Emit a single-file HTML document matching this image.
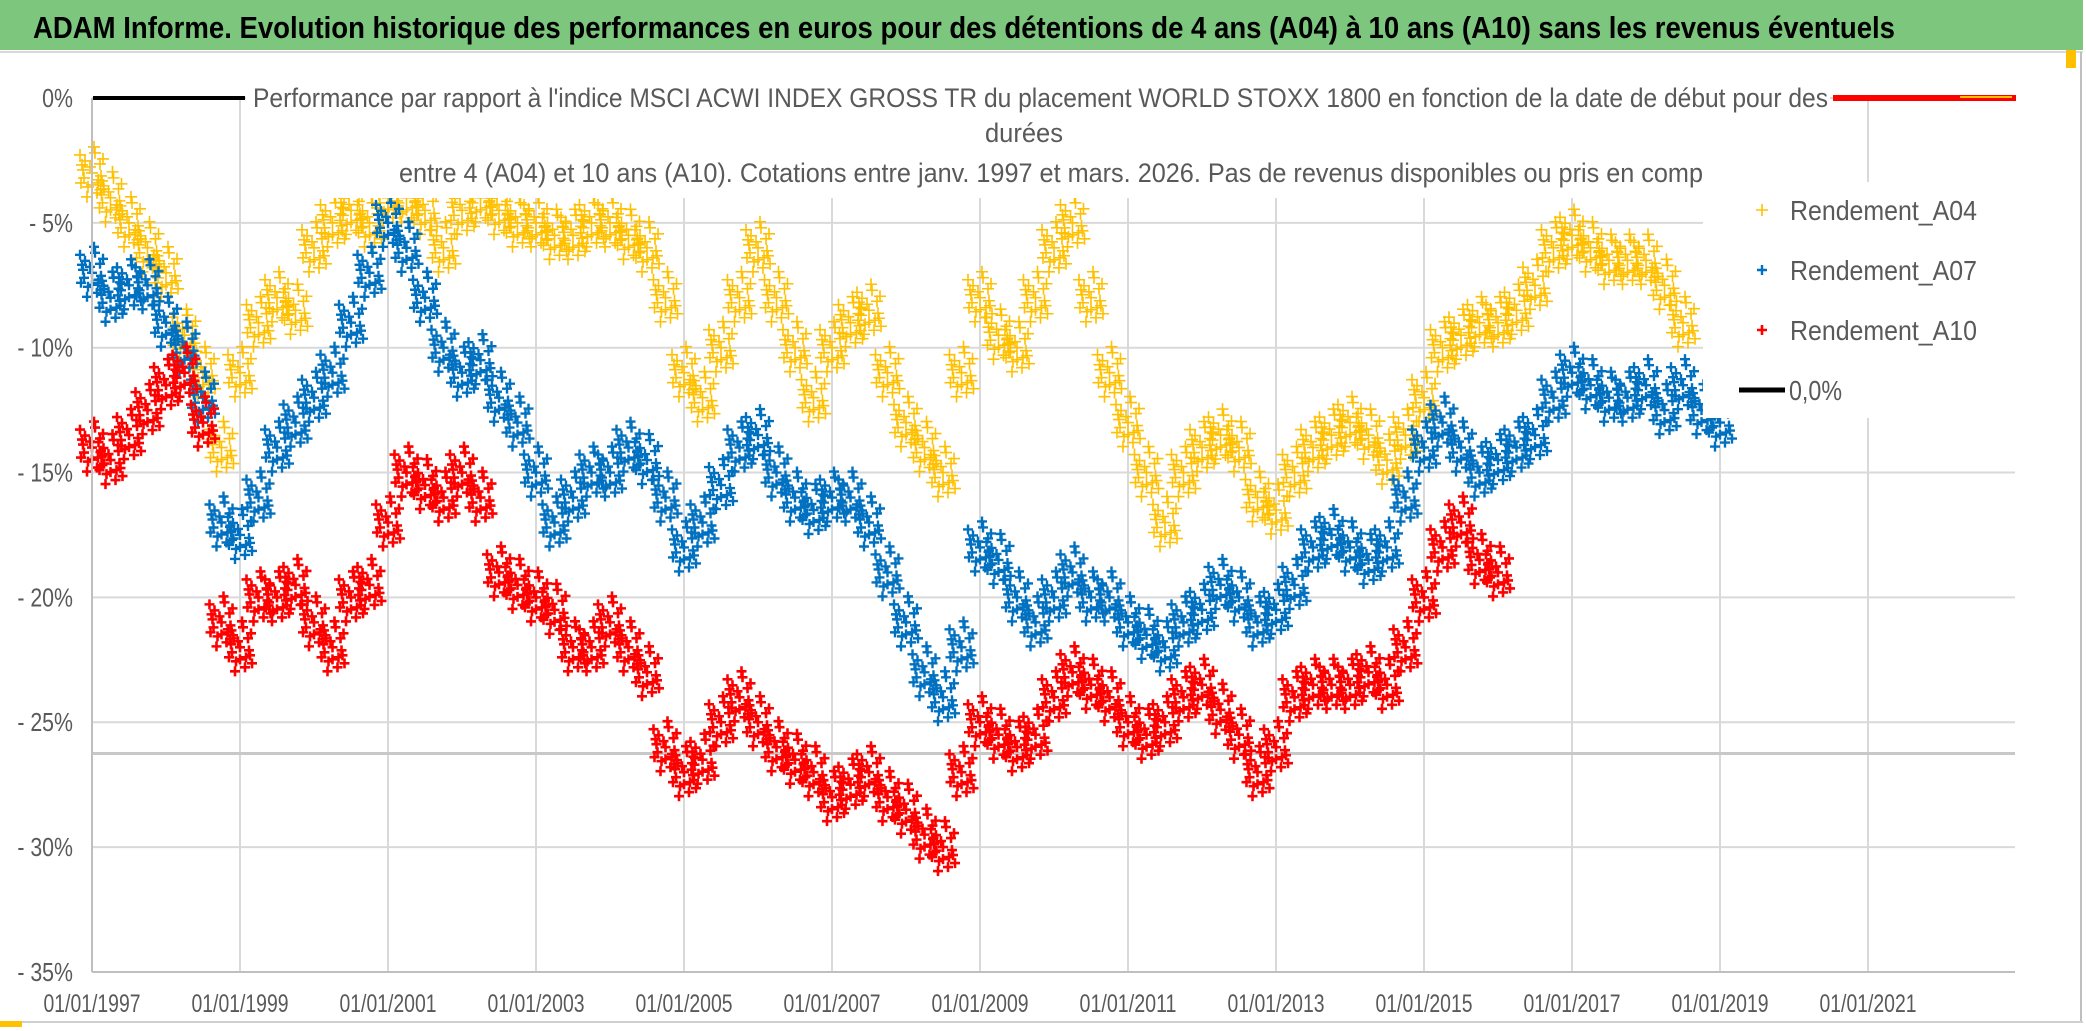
<!DOCTYPE html>
<html><head><meta charset="utf-8">
<style>
html,body{margin:0;padding:0;background:#fff;}
svg{display:block;font-family:"Liberation Sans",sans-serif;}
</style></head>
<body>
<svg id="chart" width="2086" height="1031" viewBox="0 0 2086 1031" xmlns="http://www.w3.org/2000/svg">
  <rect x="0" y="0" width="2086" height="1031" fill="#fff"/>
  <rect x="0" y="0" width="2083" height="50" fill="#7DC67E"/>
  <line x1="0" y1="52" x2="2083" y2="52" stroke="#d9d9d9" stroke-width="2"/>
  <rect x="2066" y="50" width="10" height="18" fill="#FFC000"/>
  <line x1="2081" y1="52" x2="2081" y2="1021" stroke="#bfbfbf" stroke-width="2"/>
  <line x1="0" y1="1022" x2="2083" y2="1022" stroke="#d0d0d0" stroke-width="2"/>
  <rect x="0" y="1021" width="22" height="6" fill="#FFC000"/>
  <text x="33" y="38" font-size="31" font-weight="bold" fill="#000" textLength="1862" lengthAdjust="spacingAndGlyphs">ADAM Informe. Evolution historique des performances en euros pour des détentions de 4 ans (A04) à 10 ans (A10) sans les revenus éventuels</text>
  <g id="grid"></g>
  <g id="refline"></g>
  <g id="points"></g>
  <g id="overlay"></g>
  <g id="axes"></g>
</svg>
<script>
const NS="http://www.w3.org/2000/svg";
const startYear=1997;
const stepYear=0.25;
const yTicks=[0,-5,-10,-15,-20,-25,-30,-35];
const yTickLabels=["0%","- 5%","- 10%","- 15%","- 20%","- 25%","- 30%","- 35%"];
const xTicks=[1997,1999,2001,2003,2005,2007,2009,2011,2013,2015,2017,2019,2021];
const xTickLabels=["01/01/1997","01/01/1999","01/01/2001","01/01/2003","01/01/2005","01/01/2007","01/01/2009","01/01/2011","01/01/2013","01/01/2015","01/01/2017","01/01/2019","01/01/2021"];
const refLevel=-26.25;
const a04=[-3,-4,-5,-6,-7,-9.5,-11,-14,-11,-9,-8,-8.5,-6,-5,-4.5,-5,-4,-4,-4.5,-6,-4.5,-4,-4.5,-5,-5,-5.5,-5.5,-5,-5,-5.5,-6,-8,-11,-12,-10,-8,-6,-8,-10,-12,-10,-9,-8.5,-11,-13,-14,-15,-11,-8,-9.5,-10,-8,-6,-5,-8,-11,-13,-15,-17,-15,-14,-13.5,-14,-16,-16.5,-15,-14,-13.5,-13,-13.5,-14.5,-13.5,-12,-10,-9.5,-9,-9,-8.5,-7.5,-6,-5.5,-6,-6.5,-6.5,-6.5,-7.5,-9];
const a07=[-7,-8,-7.5,-7.5,-9,-10,-12,-17,-17.5,-16,-14,-13,-12,-11,-9,-7,-5,-6,-8,-10,-11,-10.5,-12,-13,-15,-17,-16,-15,-15,-14,-14.5,-16,-18,-17,-15.5,-14,-13.5,-15,-16,-16.5,-16,-16,-17,-19,-21,-23,-24,-22,-18,-18.5,-20,-21,-20,-19,-20,-20,-21,-21.5,-22,-21,-20.5,-19.5,-20,-21,-20.5,-19.5,-18,-17.5,-18,-18.5,-18,-16,-14,-13,-14,-15,-14.5,-14,-13.5,-12,-11,-11.5,-12,-12,-11.5,-12.5,-11.5,-12.5,-13];
const a10=[-14,-14.5,-13.5,-12.5,-11.5,-11,-13,-21,-22,-20,-20,-19.5,-21,-22,-20,-19.5,-17,-15,-15.5,-16,-15,-16,-19,-19.5,-20,-20.5,-22,-22,-21,-22,-23,-26,-27,-26.5,-25,-24,-25,-26,-26.5,-27,-28,-27.5,-27,-28,-28.5,-29.5,-30,-27,-25,-25.5,-26,-25.5,-24,-23,-23.5,-24,-25,-25.5,-25,-24,-23.5,-24.5,-25.5,-27,-26,-24,-23.5,-23.5,-23.5,-23,-23.5,-22,-20,-18,-17,-18.5,-19];

const X0=92,PXY=74,Y0=98,PXP=24.97,XR=2015;
function xs(yr){return X0+(yr-1997)*PXY;}
function ys(v){return Y0-v*PXP;}
const grid=document.getElementById('grid');
const axes=document.getElementById('axes');
function mk(tag,attrs,parent){const e=document.createElementNS(NS,tag);for(const k in attrs)e.setAttribute(k,attrs[k]);parent.appendChild(e);return e;}

yTicks.forEach((t,i)=>{
  const l=mk('line',{x1:X0,x2:XR,y1:ys(t),y2:ys(t),stroke:'#d9d9d9','stroke-width':2},grid);
  
  
  const tx=mk('text',{x:73,y:ys(t)+9,'font-size':26,fill:'#595959','text-anchor':'end',transform:`translate(73 0) scale(0.82 1) translate(-73 0)`},axes);
  tx.textContent=yTickLabels[i];
  
  
});
xTicks.forEach((t,i)=>{
  const l=mk('line',{x1:xs(t),x2:xs(t),y1:Y0,y2:ys(-35),stroke:'#d9d9d9','stroke-width':2},grid);
  
  
  const tx=mk('text',{x:xs(t),y:1012,'font-size':25,fill:'#595959','text-anchor':'middle',textLength:97,lengthAdjust:'spacingAndGlyphs'},axes);
  tx.textContent=xTickLabels[i];
  
  
});
const ax=mk('line',{x1:X0,x2:X0,y1:Y0,y2:ys(-35),stroke:'#bfbfbf','stroke-width':2},axes);


const bx=mk('line',{x1:X0,x2:XR,y1:ys(-35),y2:ys(-35),stroke:'#bfbfbf','stroke-width':2},axes);



const rl=mk('line',{x1:X0,x2:XR,y1:ys(refLevel),y2:ys(refLevel),stroke:'#c8c8c8','stroke-width':3},document.getElementById('refline'));



// marker cluster pattern (style of the dense scatter marker)
const cluster=[[0,0],[-7,-12],[6,10],[-4,14],[8,-9],[3,-20],[-8,5],[5,20],[-2,-6],[9,3],[-9,-3],[-11,10],[11,-14],[-12,-18],[12,16],[-5,24],[2,-26],[-10,-8],[10,8],[0,12]];
const pts=document.getElementById('points');
function series(vals,color,s,w,name){
  const g=mk('g',{},pts);
  
  
  vals.forEach((v,i)=>{
    const cx=xs(startYear+i*stepYear), cy=ys(v);
    const d=cluster.map(o=>{const x=cx+o[0],y=cy+o[1];return `M${x-s},${y}H${x+s}M${x},${y-s}V${y+s}`;}).join('');
    const p=mk('path',{d:d,stroke:color,'stroke-width':w,fill:'none'},g);
    
    
  });
}
series(a04,'#FFC000',6,1.6,'series-a04');
series(a07,'#0070C0',5,2.4,'series-a07');
series(a10,'#FF0000',5,2.6,'series-a10');

const ov=document.getElementById('overlay');
const sb=mk('rect',{x:246,y:62,width:1584,height:136,fill:'#fff'},ov);


const lb=mk('rect',{x:1703,y:182,width:313,height:236,fill:'#fff'},ov);


</script>
<svg style="position:absolute;left:0;top:0" width="2086" height="1031" xmlns="http://www.w3.org/2000/svg">
  <line x1="93" y1="98" x2="245" y2="98" stroke="#000" stroke-width="4"/>
  <line x1="1833" y1="98" x2="2016" y2="98" stroke="#FF0000" stroke-width="6"/>
  <line x1="1960" y1="97" x2="2012" y2="97" stroke="#FFC000" stroke-width="2"/>
  <text x="253" y="107" font-size="27" fill="#595959" textLength="1575" lengthAdjust="spacingAndGlyphs">Performance par rapport à l'indice MSCI ACWI INDEX GROSS TR  du placement WORLD STOXX 1800 en fonction de la date de début pour des</text>
  <text x="1024" y="142" font-size="27" fill="#595959" text-anchor="middle" textLength="78" lengthAdjust="spacingAndGlyphs">durées</text>
  <text x="399" y="182" font-size="27" fill="#595959" textLength="1304" lengthAdjust="spacingAndGlyphs">entre 4 (A04) et 10 ans (A10). Cotations entre janv. 1997 et mars. 2026. Pas de revenus disponibles ou pris en comp</text>
  <g>
    <g>
      <path d="M1756,210H1768M1762,204V216" stroke="#FFC000" stroke-width="1.6"/>
      <text x="1790" y="220" font-size="28" fill="#595959" textLength="187" lengthAdjust="spacingAndGlyphs">Rendement_A04</text>
    </g>
    <g>
      <path d="M1757,270H1767M1762,265V275" stroke="#0070C0" stroke-width="2.4"/>
      <text x="1790" y="280" font-size="28" fill="#595959" textLength="187" lengthAdjust="spacingAndGlyphs">Rendement_A07</text>
    </g>
    <g>
      <path d="M1757,330H1767M1762,325V335" stroke="#FF0000" stroke-width="2.6"/>
      <text x="1790" y="340" font-size="28" fill="#595959" textLength="187" lengthAdjust="spacingAndGlyphs">Rendement_A10</text>
    </g>
    <g>
      <line x1="1739" y1="390" x2="1785" y2="390" stroke="#000" stroke-width="5"/>
      <text x="1789" y="400" font-size="28" fill="#595959" textLength="53" lengthAdjust="spacingAndGlyphs">0,0%</text>
    </g>
  </g>
</svg>
</body></html>
